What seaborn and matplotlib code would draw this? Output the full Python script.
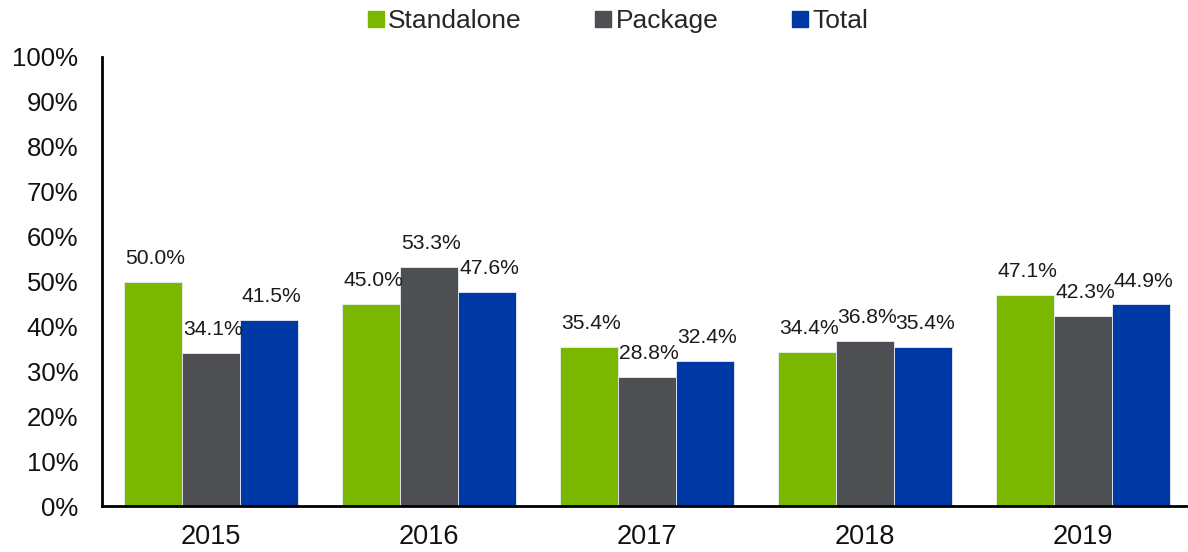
import matplotlib
matplotlib.use("Agg")
import matplotlib.pyplot as plt
import seaborn as sns
import pandas as pd
import numpy as np
from matplotlib.ticker import FixedLocator, PercentFormatter
from matplotlib.lines import Line2D

years = ["2015", "2016", "2017", "2018", "2019"]
series = ["Standalone", "Package", "Total"]
standalone = [50.0, 45.0, 35.4, 34.4, 47.1]
package = [34.1, 53.3, 28.8, 36.8, 42.3]
total = [41.5, 47.6, 32.4, 35.4, 44.9]
colors = ["#7AB800", "#4D4F53", "#0039A6"]

rows = []
for s, vals in zip(series, [standalone, package, total]):
    for y, v in zip(years, vals):
        rows.append({"Year": y, "Series": s, "Value": v})
df = pd.DataFrame(rows)

sns.set_theme(style="white")
plt.rcParams['font.family'] = ['Liberation Sans', 'DejaVu Sans']

fig = plt.figure(figsize=(11.88, 5.52), dpi=100)
ax = fig.add_axes([0.0859, 0.083, 0.9175, 0.814])

sns.barplot(data=df, x="Year", y="Value", hue="Series", order=years, hue_order=series,
            palette=colors, width=0.8, saturation=1, edgecolor="#e8eef5", linewidth=0.6,
            ax=ax, legend=False)

for cont in ax.containers:
    for bar in cont:
        h = bar.get_height()
        ax.annotate(f"{h:.1f}%", (bar.get_x() + bar.get_width() / 2 + 0.01, h),
                    xytext=(0, 10), textcoords="offset points", ha="center", va="bottom",
                    fontsize=15.2, color="#1a1a1a")

ax.set_xlim(-0.5, 4.5)
ax.set_ylim(0, 100)
ax.yaxis.set_major_locator(FixedLocator(np.arange(0, 101, 10)))
ax.yaxis.set_major_formatter(PercentFormatter(decimals=0))
ax.set_xlabel("")
ax.set_ylabel("")
ax.tick_params(axis="y", direction="in", length=7, width=1.5, labelsize=18.5, pad=17, colors="black")
ax.tick_params(axis="x", which="major", length=0, labelsize=19.5, pad=13, colors="black")
ax.set_xticks(np.arange(-0.5, 4.6, 1), minor=True)
ax.tick_params(axis="x", which="minor", direction="in", length=7, width=1.5, color="black")
for lbl in ax.get_xticklabels() + ax.get_yticklabels():
    lbl.set_color("#111111")

for side in ["top", "right"]:
    ax.spines[side].set_visible(False)
for side in ["left", "bottom"]:
    ax.spines[side].set_color("black")
    ax.spines[side].set_linewidth(2)

handles = [Line2D([0], [0], marker="s", linestyle="", markersize=12, markerfacecolor=c,
                  markeredgecolor=c) for c in colors]
fig.legend(handles, series, loc="center", bbox_to_anchor=(0.519, 0.962), ncol=3,
           frameon=False, fontsize=19, handletextpad=0.06, columnspacing=2.7, handlelength=0.8,
           borderpad=0, borderaxespad=0)

fig.savefig("out.png", dpi=100)
